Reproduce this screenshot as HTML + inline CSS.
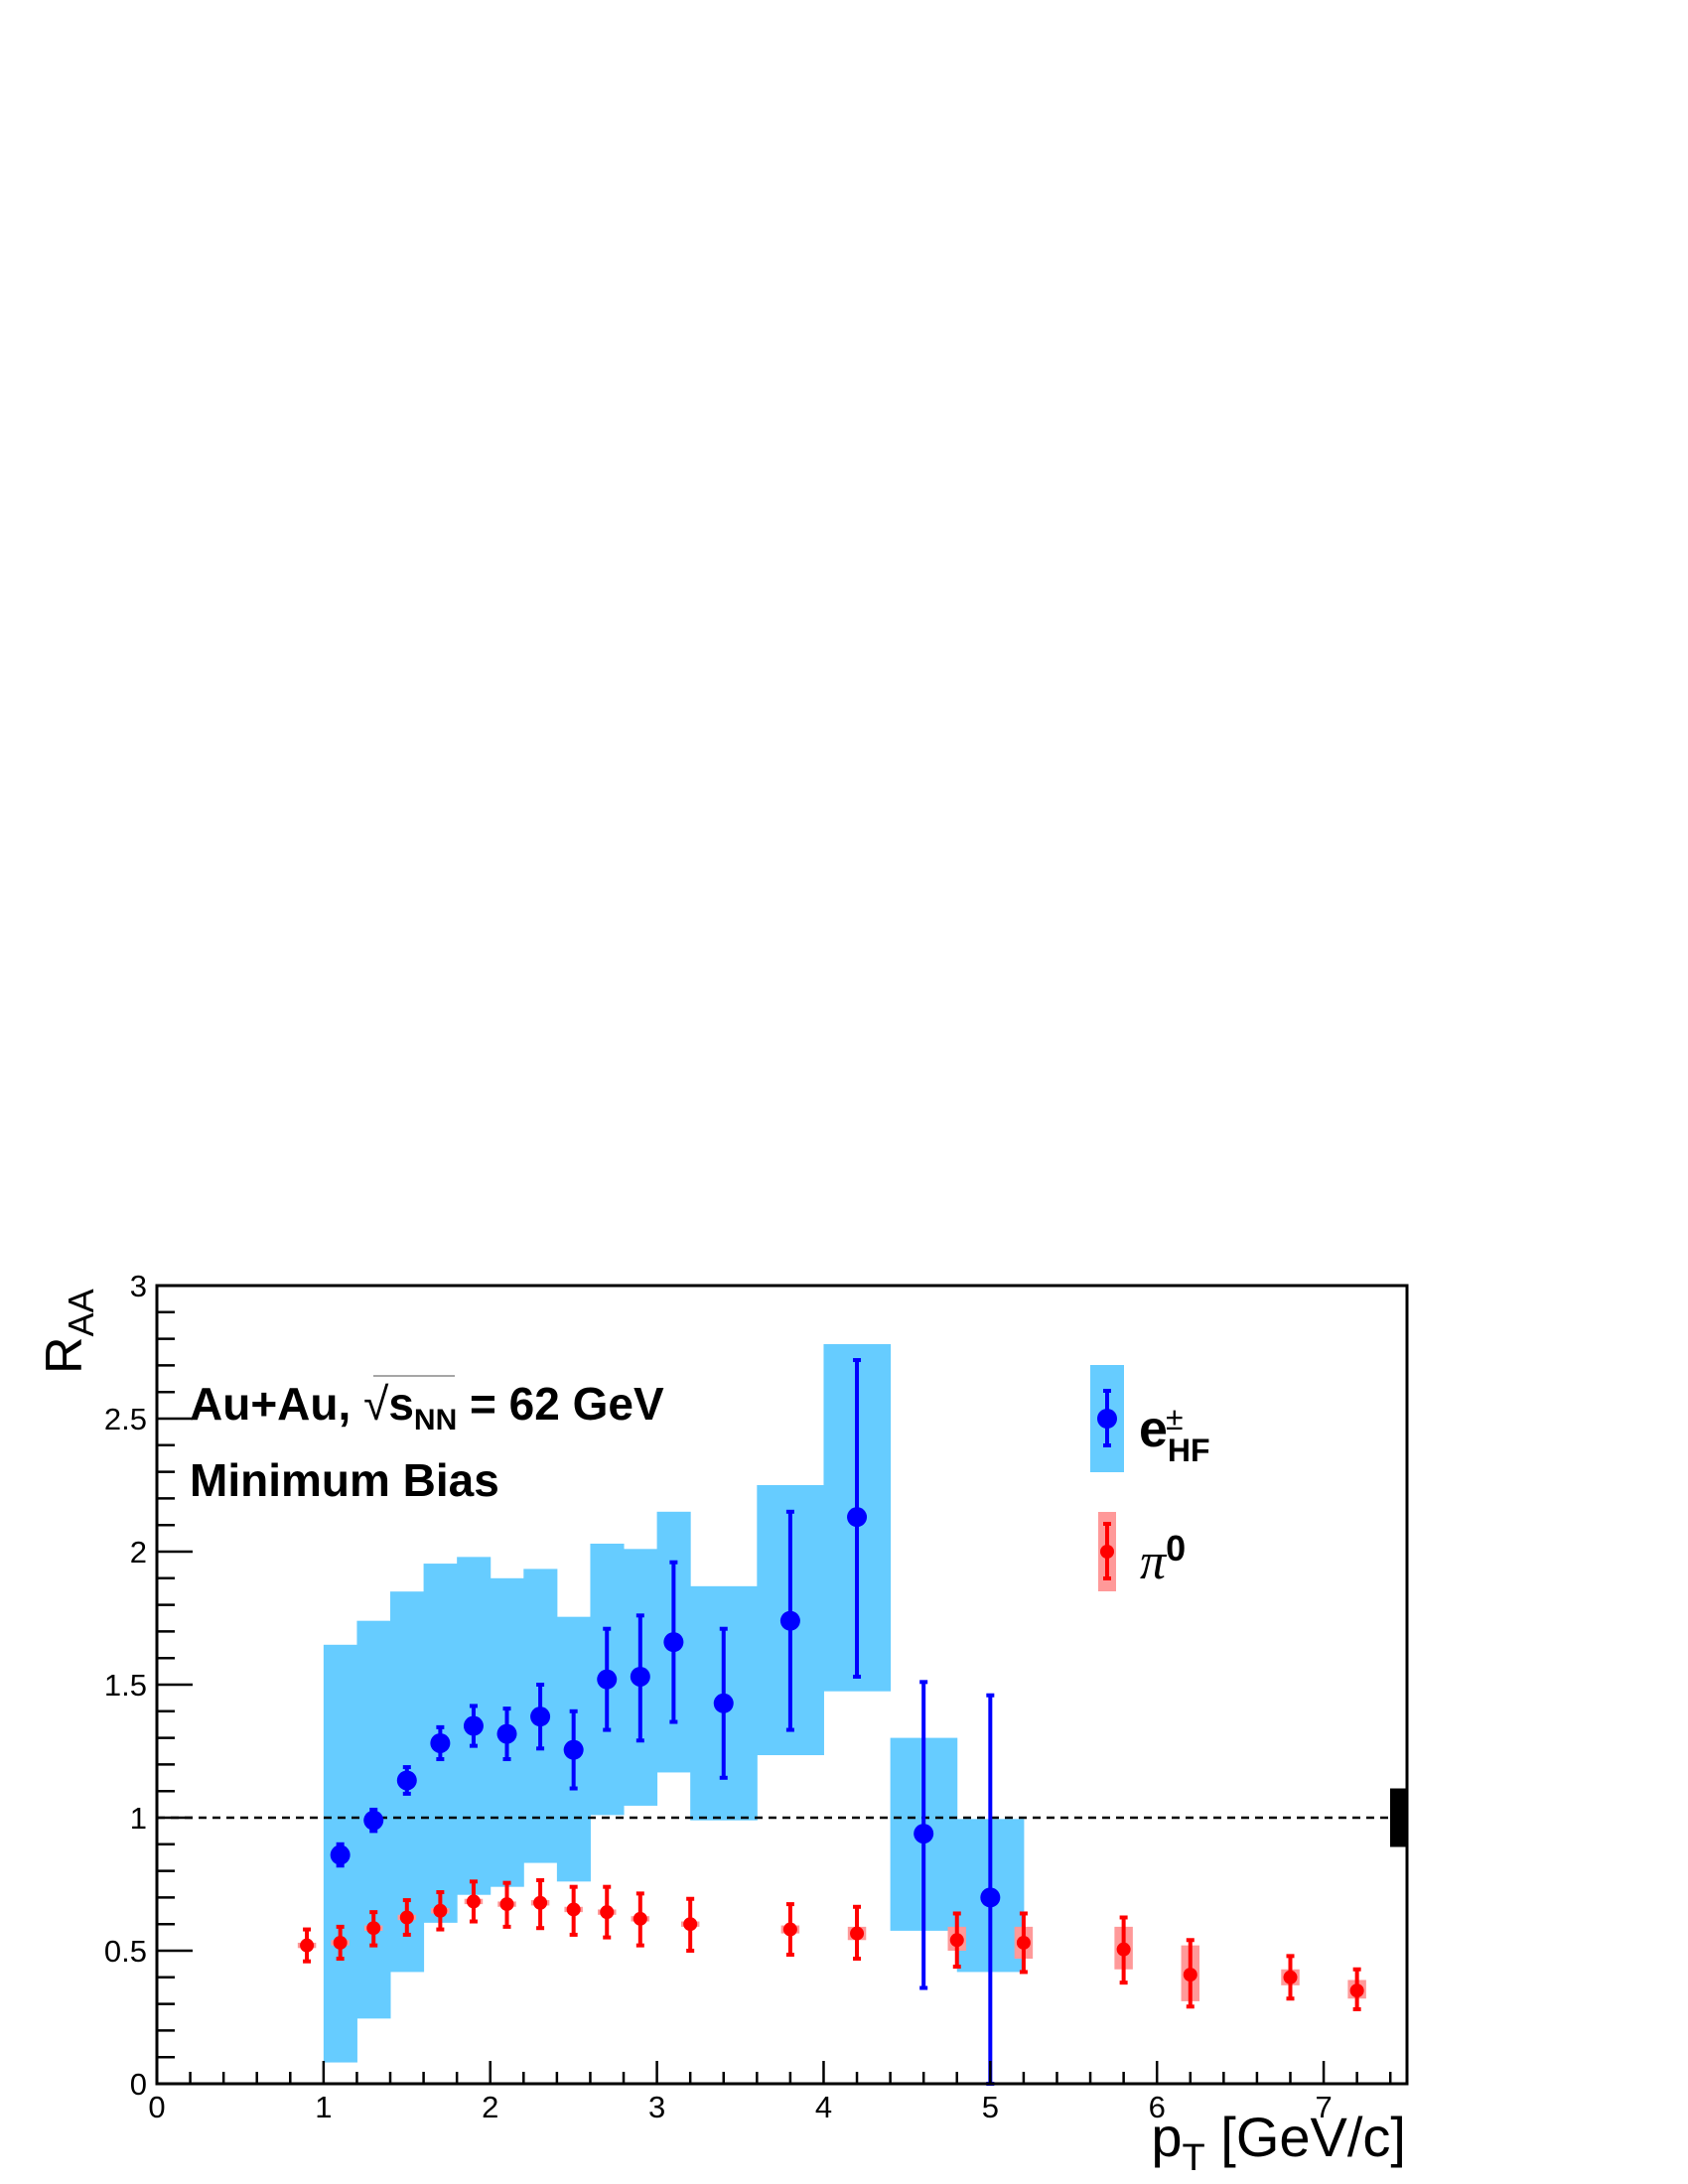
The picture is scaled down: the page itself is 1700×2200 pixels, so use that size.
<!DOCTYPE html>
<html><head><meta charset="utf-8"><style>
html,body{margin:0;padding:0;background:#fff;}
svg{display:block;font-family:"Liberation Sans",sans-serif;}
</style></head><body>
<svg id="chart" width="1700" height="2200" viewBox="0 0 1700 2200">
<g id="marks"></g>
<g id="axes"></g>
<g id="texts">
<text x="191" y="1430" font-size="46" font-weight="bold">Au+Au, <tspan font-weight="normal">√</tspan><tspan>s</tspan><tspan font-size="30" dy="10">NN</tspan><tspan dy="-10"> = 62 GeV</tspan></text>
<line x1="376" y1="1386" x2="458" y2="1386" stroke="#888" stroke-width="1.5"/>
<text x="191" y="1507" font-size="46" font-weight="bold">Minimum Bias</text>
<text transform="translate(82,1384) rotate(-90)" font-size="52">R<tspan font-size="36" dy="12">AA</tspan></text>
<text x="1416" y="2172" font-size="56" text-anchor="end">p<tspan font-size="38" dy="14">T</tspan><tspan dy="-14"> [GeV/c]</tspan></text>
</g>
<g id="legend">
<rect x="1098" y="1375" width="34" height="108" fill="#66ccff"/>
<line x1="1115" y1="1401" x2="1115" y2="1456" stroke="#0000ff" stroke-width="4"/>
<line x1="1111" y1="1401" x2="1119" y2="1401" stroke="#0000ff" stroke-width="4"/>
<line x1="1111" y1="1456" x2="1119" y2="1456" stroke="#0000ff" stroke-width="4"/>
<circle cx="1115" cy="1429" r="10" fill="#0000ff"/>
<text x="1147" y="1457" font-size="52" font-weight="bold">e<tspan font-size="32" dy="15">HF</tspan></text>
<text x="1174" y="1440" font-size="32">±</text>
<rect x="1106" y="1523" width="18" height="80" fill="#f99"/>
<line x1="1115" y1="1535" x2="1115" y2="1590" stroke="#ff0000" stroke-width="4"/>
<line x1="1111" y1="1535" x2="1119" y2="1535" stroke="#ff0000" stroke-width="4"/>
<line x1="1111" y1="1590" x2="1119" y2="1590" stroke="#ff0000" stroke-width="4"/>
<circle cx="1115" cy="1563" r="7" fill="#ff0000"/>
<text x="1148" y="1590" font-size="52" font-family="Liberation Serif" font-style="italic">π<tspan font-family="Liberation Sans" font-style="normal" font-weight="bold" font-size="36" dy="-18">0</tspan></text>
</g>
</svg>
<script>
const ehfPt=[1.1,1.3,1.5,1.7,1.9,2.1,2.3,2.5,2.7,2.9,3.1,3.4,3.8,4.2,4.6,5.0];
const ehfVal=[0.86,0.99,1.14,1.28,1.345,1.315,1.38,1.255,1.52,1.53,1.66,1.43,1.74,2.13,0.94,0.70];
const ehfErrLo=[0.82,0.95,1.09,1.22,1.27,1.22,1.26,1.11,1.33,1.29,1.36,1.15,1.33,1.53,0.36,0.0];
const ehfErrHi=[0.90,1.03,1.19,1.34,1.42,1.41,1.50,1.40,1.71,1.76,1.96,1.71,2.15,2.72,1.51,1.46];
const ehfSysLo=[0.08,0.245,0.42,0.605,0.71,0.74,0.83,0.76,1.01,1.045,1.17,0.99,1.235,1.475,0.575,0.42];
const ehfSysHi=[1.65,1.74,1.85,1.955,1.98,1.90,1.935,1.755,2.03,2.01,2.15,1.87,2.25,2.78,1.30,0.995];
const ehfBinLo=[1.0,1.2,1.4,1.6,1.8,2.0,2.2,2.4,2.6,2.8,3.0,3.2,3.6,4.0,4.4,4.8];
const ehfBinHi=[1.2,1.4,1.6,1.8,2.0,2.2,2.4,2.6,2.8,3.0,3.2,3.6,4.0,4.4,4.8,5.2];
const piPt=[0.9,1.1,1.3,1.5,1.7,1.9,2.1,2.3,2.5,2.7,2.9,3.2,3.8,4.2,4.8,5.2,5.8,6.2,6.8,7.2];
const piVal=[0.52,0.53,0.585,0.625,0.65,0.685,0.675,0.68,0.655,0.645,0.62,0.60,0.58,0.565,0.54,0.53,0.505,0.41,0.40,0.35];
const piErrLo=[0.46,0.47,0.52,0.56,0.58,0.61,0.59,0.585,0.56,0.55,0.52,0.50,0.485,0.47,0.44,0.42,0.38,0.29,0.32,0.28];
const piErrHi=[0.58,0.59,0.645,0.69,0.72,0.76,0.755,0.765,0.74,0.74,0.715,0.695,0.675,0.665,0.64,0.64,0.625,0.54,0.48,0.43];
const piSysLo=[0.51,0.52,0.575,0.615,0.64,0.675,0.665,0.67,0.645,0.635,0.61,0.59,0.565,0.54,0.50,0.47,0.43,0.31,0.37,0.32];
const piSysHi=[0.53,0.54,0.595,0.635,0.66,0.695,0.685,0.69,0.665,0.655,0.63,0.61,0.595,0.59,0.59,0.59,0.59,0.52,0.43,0.39];
const xTickLabels=["0","1","2","3","4","5","6","7"];
const yTickLabels=["0","0.5","1","1.5","2","2.5","3"];

const NS="http://www.w3.org/2000/svg";
const X0=158,X1=1417,Y0=2099,Y1=1295,XMAX=7.5,YMAX=3;
const sx=v=>X0+v*(X1-X0)/XMAX;
const sy=v=>Y0-v*(Y0-Y1)/YMAX;
const marks=document.getElementById('marks');
const axes=document.getElementById('axes');
function mk(tag,attrs,parent){const e=document.createElementNS(NS,tag);for(const k in attrs)e.setAttribute(k,attrs[k]);parent.appendChild(e);return e;}

ehfPt.forEach((p,i)=>{
  const r=mk('rect',{x:sx(ehfBinLo[i]),y:sy(ehfSysHi[i]),width:sx(ehfBinHi[i])-sx(ehfBinLo[i])+0.5,height:sy(ehfSysLo[i])-sy(ehfSysHi[i]),fill:'#66ccff'},marks);
  
  
});
piPt.forEach((p,i)=>{
  const r=mk('rect',{x:sx(p-0.055),y:sy(piSysHi[i]),width:sx(0.11)-sx(0),height:sy(piSysLo[i])-sy(piSysHi[i]),fill:'#f99'},marks);
  
  
});
const dl=mk('line',{x1:X0,y1:sy(1),x2:X1,y2:sy(1),stroke:'#000','stroke-width':2.5,'stroke-dasharray':'8,6'},marks);


const nb=mk('rect',{x:1400,y:sy(1.11),width:16,height:sy(0.89)-sy(1.11),fill:'#000'},marks);



function points(pts,vals,lo,hi,color,r,name){
  pts.forEach((p,i)=>{
    const g=mk('g',{},marks);
    
    
    const x=sx(p);
    mk('line',{x1:x,y1:sy(lo[i]),x2:x,y2:sy(hi[i]),stroke:color,'stroke-width':4},g);
    mk('line',{x1:x-4,y1:sy(lo[i]),x2:x+4,y2:sy(lo[i]),stroke:color,'stroke-width':4},g);
    mk('line',{x1:x-4,y1:sy(hi[i]),x2:x+4,y2:sy(hi[i]),stroke:color,'stroke-width':4},g);
    mk('circle',{cx:x,cy:sy(vals[i]),r:r,fill:color},g);
  });
}
points(piPt,piVal,piErrLo,piErrHi,'#ff0000',7,'pi0-point');
points(ehfPt,ehfVal,ehfErrLo,ehfErrHi,'#0000ff',10,'ehf-point');

const fr=mk('rect',{x:X0,y:Y1,width:X1-X0,height:Y0-Y1,fill:'none',stroke:'#000','stroke-width':3},axes);


for(let k=0;k<=30;k++){const v=k/10;const len=(k%5===0)?36:18;
  mk('line',{x1:X0,y1:sy(v),x2:X0+len,y2:sy(v),stroke:'#000','stroke-width':2.5},axes);}
yTickLabels.forEach((t,i)=>{
  const e=mk('text',{x:X0-10,y:sy(i*0.5)+11,'font-size':31,'text-anchor':'end'},axes);
  e.textContent=t;
  
  
});
for(let k=0;k<=37;k++){const v=k/5;const len=(k%5===0)?23:12;
  mk('line',{x1:sx(v),y1:Y0,x2:sx(v),y2:Y0-len,stroke:'#000','stroke-width':2.5},axes);}
xTickLabels.forEach((t,i)=>{
  const e=mk('text',{x:sx(i),y:Y0+34,'font-size':31,'text-anchor':'middle'},axes);
  e.textContent=t;
  
  
});
</script>
</body></html>
